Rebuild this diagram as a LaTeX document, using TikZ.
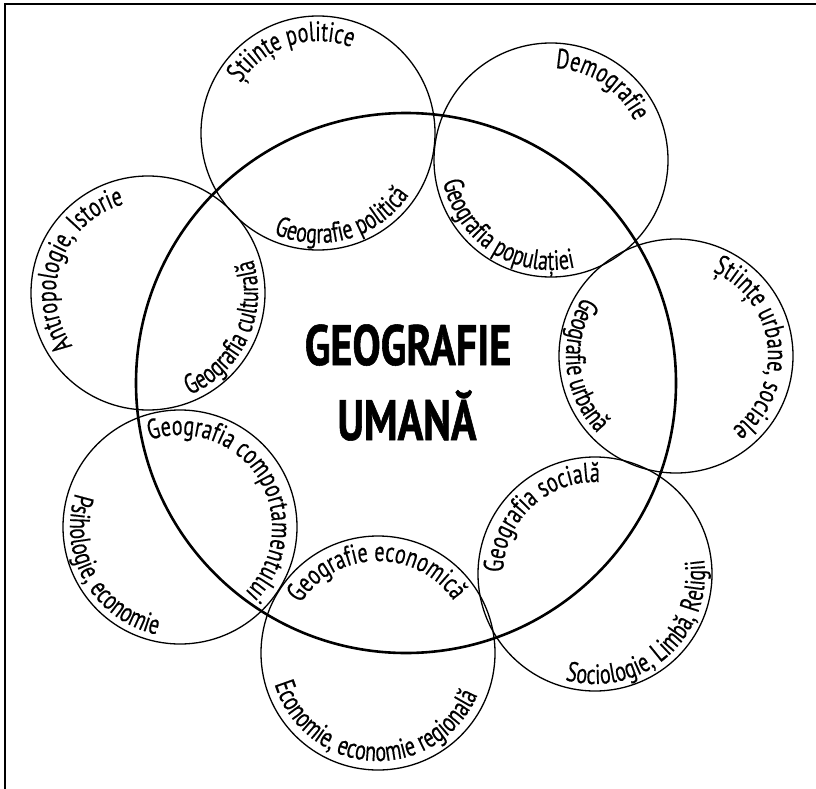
\documentclass[tikz,border=0pt]{standalone}
\usepackage{fontspec}
\setmainfont{PT Sans}[FakeStretch=0.72, FakeBold=0.4]
\newfontfamily\titlefont{PT Sans}[FakeStretch=0.74, FakeBold=1]
\usetikzlibrary{decorations.text}
\newcommand\lblfnt{\fontsize{28}{32}\selectfont}
% clockwise label (tops outward): centre, mid angle, baseline radius, text
\newcommand\cwlabel[4]{%
  \path[decorate, decoration={text along path, text={|\lblfnt|#4}, text align=center}]
    ([shift={(#2+170:#3)}]#1) arc[start angle=#2+170, end angle=#2-170, radius=#3];}
% counter-clockwise label (tops inward)
\newcommand\ccwlabel[4]{%
  \path[decorate, decoration={text along path, text={|\lblfnt|#4}, text align=center}]
    ([shift={(#2-170:#3)}]#1) arc[start angle=#2-170, end angle=#2+170, radius=#3];}
\begin{document}
\begin{tikzpicture}[x=1pt,y=1pt,
  smallc/.style={line width=1.3pt},
  bigc/.style={line width=2.6pt},
  frame/.style={line width=2pt},
  title/.style={font=\titlefont\bfseries\fontsize{57}{70}\selectfont, anchor=base, inner sep=0pt}]
\useasboundingbox (0,0) rectangle (816,-789);
% frame
\coordinate (bl) at (4.5,-789);
\coordinate (tl) at (4.5,-4);
\coordinate (tr) at (816,-4);
\draw[frame] (bl) -- (tl) -- (tr);
% centres
\coordinate (big) at (406,-383);
\coordinate (c1) at (148,-293);
\coordinate (c2) at (318,-133);
\coordinate (c3) at (551,-160);
\coordinate (c4) at (676,-356);
\coordinate (c5) at (595,-574);
\coordinate (c6) at (378,-653);
\coordinate (c7) at (180,-527);
\foreach \c in {c1,c2,c3,c4,c5,c6,c7} \draw[smallc] (\c) circle[radius=117];
\draw[bigc] (big) circle[radius=270];
% labels
\cwlabel{c1}{160}{92}{Antropologie, Istorie}
\ccwlabel{c1}{335}{110}{Geografia culturală}
\cwlabel{c2}{108}{92}{Științe politice}
\ccwlabel{c2}{286}{110}{Geografie politică}
\cwlabel{c3}{56}{92}{Demografie}
\ccwlabel{c3}{237}{110}{Geografia populației}
\cwlabel{c4}{7}{92}{Științe urbane, sociale}
\ccwlabel{c4}{186}{110}{Geografie urbană}
\ccwlabel{c5}{311}{110}{Sociologie, Limbă, Religii}
\cwlabel{c5}{133}{92}{Geografia socială}
\ccwlabel{c6}{267}{108}{Economie, economie regională}
\cwlabel{c6}{91}{92}{Geografie economică}
\ccwlabel{c7}{210}{110}{Psihologie, economie}
\cwlabel{c7}{32}{92}{Geografia comportamentului}
% title
\node[title] (t1) at (408,-365) {GEOGRAFIE};
\node[title] (t2) at (407,-440) {UMANĂ};
\end{tikzpicture}
\end{document}
